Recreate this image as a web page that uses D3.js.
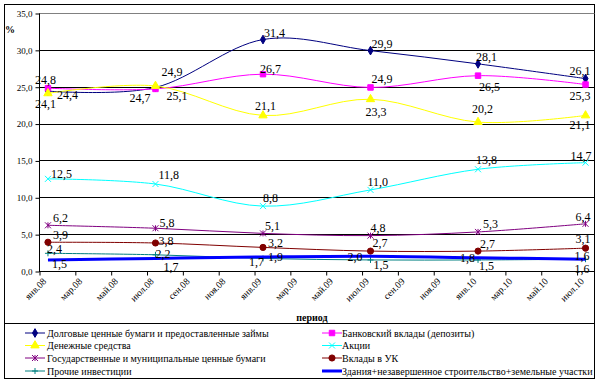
<!DOCTYPE html>
<html>
<head>
<meta charset="utf-8">
<script src="https://cdn.jsdelivr.net/npm/d3@7"></script>
<style>
  body { margin: 0; background: #fff; }
  svg { display: block; font-family: "Liberation Serif", "Times New Roman", serif; }
</style>
</head>
<body>
<div id="chart"></div>
<script>
// periods (half-year points) and axis labels, every second month
const periods = ["2008-01", "2008-07", "2009-01", "2009-07", "2010-01", "2010-07"];
const tickLabels = ["янв.08", "мар.08", "май.08", "июл.08", "сен.08", "ноя.08",
  "янв.09", "мар.09", "май.09", "июл.09", "сен.09", "ноя.09",
  "янв.10", "мар.10", "май.10", "июл.10"];
const yTicks = [0, 5, 10, 15, 20, 25, 30, 35];

const debtSecurities = [24.4, 24.9, 31.4, 29.9, 28.1, 26.1];
const bankDeposits = [24.8, 24.7, 26.7, 24.9, 26.5, 25.3];
const cash = [24.1, 25.1, 21.1, 23.3, 20.2, 21.1];
const shares = [12.5, 11.8, 8.8, 11.0, 13.8, 14.7];
const govSecurities = [6.2, 5.8, 5.1, 4.8, 5.3, 6.4];
const ukDeposits = [3.9, 3.8, 3.2, 2.7, 2.7, 3.1];
const otherInvest = [2.4, 2.2, 1.7, 1.5, 1.5, 1.6];
const buildings = [1.5, 1.7, 1.9, 2.0, 1.8, 1.6];

const seriesNames = [
  "Долговые ценные бумаги и предоставленные займы",
  "Банковский вклады (депозиты)",
  "Денежные средства",
  "Акции",
  "Государственные и муниципальные ценные бумаги",
  "Вклады в УК",
  "Прочие инвестиции",
  "Здания+незавершенное строительство+земельные участки"
];
const seriesValues = [debtSecurities, bankDeposits, cash, shares, govSecurities, ukDeposits, otherInvest, buildings];

// styling per series
const seriesStyle = [
  {color: "#000080", marker: "diamond", width: 1},
  {color: "#ff00ff", marker: "square", width: 1},
  {color: "#ffff00", marker: "triangle", width: 1},
  {color: "#00ffff", marker: "x", width: 1},
  {color: "#800080", marker: "star", width: 1},
  {color: "#800000", marker: "circle", width: 1},
  {color: "#008080", marker: "plus", width: 1},
  {color: "#0000ff", marker: null, width: 3}
];

// hand placed data labels (dx, baseline dy from the point)
const labelOffsets = [
  [[9, 8], [6, -11], [1, -3], [1, -3], [-2, -3], [-16, -4]],
  [[-13, -4], [-26, 13], [-3, -1], [1, -4], [1, 15], [-16, 15]],
  [[-13, 15], [11, 14], [-8, -5], [-5, 17], [-6, -9], [-16, 14]],
  [[3, -1], [3, -5], [0, -4], [-3, -4], [-2, -5], [-15, -3]],
  [[5, -3], [4, -1], [2, -3], [0, -4], [5, -4], [-10, -3]],
  [[5, -3], [3, 2], [5, 0], [2, -4], [2, -3], [-10, -5]],
  [[-1, 0], [0, 3], [-14, 8], [3, 9], [1, 10], [-11, 13.5]],
  [[4, 8], [8, 13], [5, 4], [-23, 5], [-18, 4], [-11, 1]]
];

const W = 599, H = 383;
const margin = {left: 39, right: 594.5, top: 13, bottom: 271};

const svg = d3.select("#chart").append("svg")
  .attr("width", W).attr("height", H);

// outer frame
svg.append("rect")
  .attr("x", 4.5).attr("y", 4.5)
  .attr("width", 590).attr("height", 374)
  .attr("fill", "none").attr("stroke", "#000").attr("stroke-width", 1);

const monthIndex = function (p) {
  const parts = p.split("-");
  return (+parts[0] - 2008) * 12 + (+parts[1] - 1);
};

const x = d3.scaleLinear().domain([0, 31]).range([margin.left, margin.right]);
const y = d3.scaleLinear().domain([0, 35]).range([margin.bottom, margin.top]);
const px = function (i) { return x(monthIndex(periods[i]) + 0.5); };

const fmt = function (v) { return d3.format(".1f")(v).replace(".", ","); };

// gridlines
svg.append("g").selectAll("line")
  .data(yTicks)
  .enter().append("line")
  .attr("x1", margin.left).attr("x2", margin.right)
  .attr("y1", function (d) { return Math.round(y(d)) + 0.5; })
  .attr("y2", function (d) { return Math.round(y(d)) + 0.5; })
  .attr("stroke", function (d) { return d === 35 ? "#808080" : "#000"; })
  .attr("stroke-width", 1);

// y axis
const yAxis = svg.append("g")
  .attr("transform", "translate(" + (margin.left + 0.5) + ",0.5)")
  .call(d3.axisLeft(y).tickValues(yTicks).tickSize(4).tickPadding(3).tickFormat(fmt));
yAxis.select(".domain").attr("stroke", "#000").attr("d", "M0," + margin.top + "V" + margin.bottom);
yAxis.selectAll("text").attr("font-size", 9).attr("font-family", "Liberation Serif").attr("fill", "#000");

svg.append("text")
  .attr("x", 5).attr("y", 33)
  .attr("font-size", 10).attr("font-weight", "bold")
  .text("%");

// x axis: ticks every two months
const xTickVals = d3.range(0, 31, 2);
const xAxis = svg.append("g")
  .attr("transform", "translate(0.5," + (margin.bottom + 0.5) + ")")
  .call(d3.axisBottom(x).tickValues(xTickVals).tickSize(4).tickFormat(""));
xAxis.select(".domain").attr("d", "M" + margin.left + ",0H" + margin.right);

svg.append("g").selectAll("text")
  .data(tickLabels)
  .enter().append("text")
  .attr("transform", function (d, i) {
    return "translate(" + (x(i * 2 + 0.5) - 1) + "," + (margin.bottom + 11) + ") rotate(-45)";
  })
  .attr("text-anchor", "end")
  .attr("font-size", 9.5)
  .text(function (d) { return d; });

svg.append("text")
  .attr("x", 312).attr("y", 321)
  .attr("text-anchor", "middle")
  .attr("font-size", 10).attr("font-weight", "bold")
  .text("период");

// markers
function markerPath(type) {
  const s = 3;
  switch (type) {
    case "diamond": return d3.symbol(d3.symbolDiamond, 22)();
    case "square": return d3.symbol(d3.symbolSquare, 30)();
    case "triangle": return d3.symbol(d3.symbolTriangle, 30)();
    case "circle": return d3.symbol(d3.symbolCircle, 30)();
    case "x": return "M" + -s + "," + -s + "L" + s + "," + s + "M" + -s + "," + s + "L" + s + "," + -s;
    case "star": return "M" + -s + "," + -s + "L" + s + "," + s + "M" + -s + "," + s + "L" + s + "," + -s + "M0," + -s + "V" + s;
    case "plus": return "M" + -s + ",0H" + s + "M0," + -s + "V" + s;
  }
  return null;
}
const filled = {diamond: true, square: true, triangle: true, circle: true};

const line = d3.line()
  .x(function (d, i) { return px(i); })
  .y(function (d) { return y(d); })
  .curve(d3.curveCatmullRom.alpha(0));

seriesValues.forEach(function (vals, s) {
  const st = seriesStyle[s];
  const g = svg.append("g");
  g.append("path")
    .attr("d", line(vals))
    .attr("fill", "none")
    .attr("stroke", st.color)
    .attr("stroke-width", st.width);
  if (st.marker) {
    g.selectAll(".m")
      .data(vals)
      .enter().append("path")
      .attr("transform", function (d, i) { return "translate(" + px(i) + "," + y(d) + ")"; })
      .attr("d", markerPath(st.marker))
      .attr("fill", filled[st.marker] ? st.color : "none")
      .attr("stroke", st.color)
      .attr("stroke-width", 1);
  }
});

// data labels
seriesValues.forEach(function (vals, s) {
  svg.append("g").selectAll("text")
    .data(vals)
    .enter().append("text")
    .attr("x", function (d, i) { return px(i) + labelOffsets[s][i][0]; })
    .attr("y", function (d, i) { return y(d) + labelOffsets[s][i][1]; })
    .attr("font-size", 12)
    .attr("fill", "#000")
    .text(fmt);
});

// legend
const legendTop = 323.5;
svg.append("line")
  .attr("x1", 4).attr("x2", 595)
  .attr("y1", legendTop).attr("y2", legendTop)
  .attr("stroke", "#000");

const legendCols = [{lx: 25, tx: 47}, {lx: 322, tx: 342}];
const legendRows = [333, 345.5, 358, 371];

const legend = svg.append("g").selectAll("g")
  .data(seriesNames)
  .enter().append("g")
  .attr("transform", function (d, i) {
    return "translate(" + legendCols[i % 2].lx + "," + legendRows[Math.floor(i / 2)] + ")";
  });

legend.append("line")
  .attr("x1", 0).attr("x2", 20)
  .attr("stroke", function (d, i) { return seriesStyle[i].color; })
  .attr("stroke-width", function (d, i) { return seriesStyle[i].width; });

legend.append("path")
  .attr("transform", "translate(10,0)")
  .attr("d", function (d, i) { return markerPath(seriesStyle[i].marker); })
  .attr("fill", function (d, i) { return filled[seriesStyle[i].marker] ? seriesStyle[i].color : "none"; })
  .attr("stroke", function (d, i) { return seriesStyle[i].color; });

legend.append("text")
  .attr("x", function (d, i) { return legendCols[i % 2].tx - legendCols[i % 2].lx; })
  .attr("y", 3.5)
  .attr("font-size", 10)
  .text(function (d) { return d; });
</script>
</body>
</html>
